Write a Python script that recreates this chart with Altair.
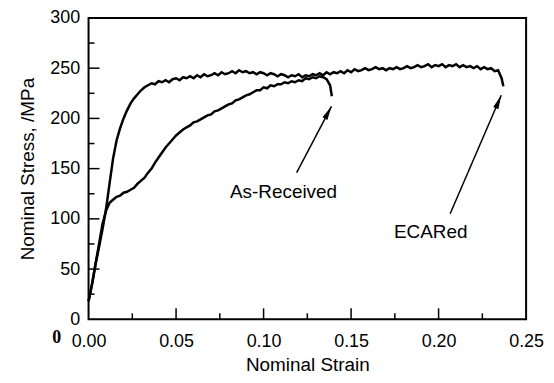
import altair as alt
import pandas as pd

# ECARed curve (strain, stress MPa)
ecared_strain = [0.000, 0.002, 0.004, 0.006, 0.008, 0.010, 0.012, 0.014, 0.016, 0.018,
                 0.020, 0.022, 0.024, 0.026, 0.028, 0.030, 0.032, 0.034,
                 0.036, 0.038, 0.040, 0.042, 0.044, 0.046, 0.048, 0.050, 0.052, 0.054,
                 0.056, 0.058, 0.060, 0.062, 0.064, 0.066, 0.068, 0.070, 0.072, 0.074,
                 0.076, 0.078, 0.080, 0.082, 0.084, 0.086, 0.088, 0.090, 0.092, 0.094,
                 0.096, 0.098, 0.100, 0.102, 0.104, 0.106, 0.108, 0.110, 0.112, 0.114,
                 0.116, 0.118, 0.120, 0.122, 0.124, 0.126, 0.128, 0.130, 0.132, 0.134,
                 0.136, 0.138, 0.140, 0.142, 0.144, 0.146, 0.148, 0.150, 0.152, 0.154,
                 0.156, 0.158, 0.160, 0.162, 0.164, 0.166, 0.168, 0.170, 0.172, 0.174,
                 0.176, 0.178, 0.180, 0.182, 0.184, 0.186, 0.188, 0.190, 0.192, 0.194,
                 0.196, 0.198, 0.200, 0.202, 0.204, 0.206, 0.208, 0.210, 0.212, 0.214,
                 0.216, 0.218, 0.220, 0.222, 0.224, 0.226, 0.228, 0.230, 0.232, 0.234,
                 0.235, 0.236, 0.237]
ecared_stress = [18, 35, 55, 72, 90, 110, 135, 160, 178, 190,
                 200, 208, 215, 220, 224, 228, 231, 233,
                 235, 234, 237, 236, 238, 236, 239, 240, 238, 241,
                 240, 242, 240, 243, 241, 244, 242, 243, 245, 243,
                 246, 244, 245, 247, 245, 248, 246, 247, 245, 246,
                 244, 246, 245, 243, 245, 244, 242, 244, 243, 241,
                 243, 242, 244, 241, 243, 242, 244, 243, 245, 243,
                 246, 244, 246, 245, 247, 245, 248, 246, 249, 247,
                 248, 250, 248, 249, 251, 249, 250, 248, 250, 249,
                 251, 249, 250, 252, 250, 251, 253, 251, 252, 254,
                 251, 253, 252, 254, 251, 253, 252, 254, 251, 253,
                 251, 252, 250, 252, 249, 251, 249, 250, 247, 248,
                 244, 240, 232]

# As-Received curve
asrec_strain = [0.000, 0.002, 0.004, 0.006, 0.008, 0.010, 0.012, 0.014, 0.016, 0.018,
                0.020, 0.022, 0.024, 0.026, 0.028, 0.030, 0.032, 0.034, 0.036, 0.038,
                0.040, 0.042, 0.044, 0.046, 0.048, 0.050, 0.052, 0.054, 0.056, 0.058,
                0.060, 0.062, 0.064, 0.066, 0.068, 0.070, 0.072, 0.074, 0.076, 0.078,
                0.080, 0.082, 0.084, 0.086, 0.088, 0.090, 0.092, 0.094, 0.096, 0.098,
                0.100, 0.102, 0.104, 0.106, 0.108, 0.110, 0.112, 0.114, 0.116, 0.118,
                0.120, 0.122, 0.124, 0.126, 0.128, 0.130, 0.132, 0.134, 0.136, 0.138,
                0.139]
asrec_stress = [18, 35, 55, 75, 95, 108, 116, 119, 122, 123,
                126, 127, 129, 131, 135, 138, 141, 146, 150, 156,
                161, 166, 171, 175, 179, 183, 186, 189, 191, 193,
                196, 197, 199, 201, 203, 204, 207, 208, 210, 212,
                214, 215, 218, 219, 221, 223, 224, 226, 228, 228,
                231, 230, 233, 232, 234, 234, 236, 235, 237, 236,
                238, 237, 240, 239, 241, 240, 242, 241, 239, 233,
                222]

x_major = [0.05, 0.10, 0.15, 0.20]
x_minor = [0.025, 0.075, 0.125, 0.175, 0.225]
y_major = [50, 100, 150, 200, 250]
y_minor = [25, 75, 125, 175, 225, 275]
x_labels = [0.0, 0.05, 0.10, 0.15, 0.20, 0.25]
y_labels = [0, 50, 100, 150, 200, 250, 300]

annot_text = ["As-Received", "ECARed"]
annot_strain = [0.1114, 0.1955]
annot_stress = [127, 87]
arrow_from_strain = [0.1189, 0.2066]
arrow_from_stress = [146, 105]
arrow_to_strain = [0.1388, 0.2358]
arrow_to_stress = [212, 223]

curves = pd.concat([
    pd.DataFrame({"strain": ecared_strain, "stress": ecared_stress,
                  "specimen": "ECARed", "idx": range(len(ecared_strain))}),
    pd.DataFrame({"strain": asrec_strain, "stress": asrec_stress,
                  "specimen": "As-Received", "idx": range(len(asrec_strain))}),
])

FONT = "Liberation Sans"
xs = alt.Scale(domain=[0, 0.25], nice=False, zero=False, padding=0)
ys = alt.Scale(domain=[0, 300], nice=False, zero=False, padding=0)
xaxis = alt.Axis(values=x_labels, format=".2f", title="Nominal Strain",
                 labelPadding=13, titlePadding=5, labelFlush=False)
yaxis = alt.Axis(values=y_labels, format="d", title="Nominal Stress, /MPa",
                 labelPadding=9, titlePadding=12, labelFlush=False)

X = alt.X("strain:Q", scale=xs, axis=xaxis)
Y = alt.Y("stress:Q", scale=ys, axis=yaxis)

PH = 303  # plot height

lines = alt.Chart(curves).mark_line(color="black", strokeWidth=2.5).encode(
    x=X, y=Y, detail="specimen:N", order="idx:Q")

xmaj = alt.Chart(pd.DataFrame({"strain": x_major})).mark_rule(
    color="black", strokeWidth=1.5).encode(x=X, y=alt.value(PH), y2=alt.value(PH - 11))
xmin = alt.Chart(pd.DataFrame({"strain": x_minor})).mark_rule(
    color="black", strokeWidth=1.5).encode(x=X, y=alt.value(PH), y2=alt.value(PH - 6))
ymaj = alt.Chart(pd.DataFrame({"stress": y_major})).mark_rule(
    color="black", strokeWidth=1.5).encode(y=Y, x=alt.value(0), x2=alt.value(11))
ymin = alt.Chart(pd.DataFrame({"stress": y_minor})).mark_rule(
    color="black", strokeWidth=1.5).encode(y=Y, x=alt.value(0), x2=alt.value(6))

texts = alt.Chart(pd.DataFrame({"label": annot_text, "strain": annot_strain,
                                "stress": annot_stress})).mark_text(
    font=FONT, fontSize=19, color="black", align="center", baseline="middle").encode(
    x=X, y=Y, text="label:N")

arrows = alt.Chart(pd.DataFrame({"strain": arrow_from_strain, "stress": arrow_from_stress,
                                 "s2": arrow_to_strain, "t2": arrow_to_stress})).mark_rule(
    color="black", strokeWidth=1.5).encode(x=X, y=Y, x2="s2:Q", y2="t2:Q")

head_path = "M0,0L-0.4,2L0.4,2Z"
head1 = alt.Chart(pd.DataFrame({"strain": [arrow_to_strain[0]], "stress": [arrow_to_stress[0]]})).mark_point(
    shape=head_path, filled=True, size=196, color="black", opacity=1, angle=28).encode(x=X, y=Y)
head2 = alt.Chart(pd.DataFrame({"strain": [arrow_to_strain[1]], "stress": [arrow_to_stress[1]]})).mark_point(
    shape=head_path, filled=True, size=196, color="black", opacity=1, angle=23).encode(x=X, y=Y)

stray = alt.Chart(pd.DataFrame({"t": ["0"]})).mark_text(
    font="Liberation Serif", fontSize=18, fontWeight="bold", color="black",
    align="center", baseline="middle").encode(
    text="t:N", x=alt.value(-32), y=alt.value(PH + 19))

chart = alt.layer(lines, xmaj, xmin, ymaj, ymin, arrows, head1, head2, texts, stray).properties(
    width=440, height=PH,
    autosize=alt.AutoSizeParams(type="none"),
    padding={"left": 81, "top": 9, "right": 20, "bottom": 55},
).configure_view(stroke="black", strokeWidth=2).configure_axis(
    domain=False, ticks=False, grid=False,
    labelFont=FONT, labelFontSize=18, labelColor="black",
    titleFont=FONT, titleFontSize=19, titleFontWeight="normal", titleColor="black",
)

chart.save("out.html", embed_options={"renderer": "svg", "actions": False})
